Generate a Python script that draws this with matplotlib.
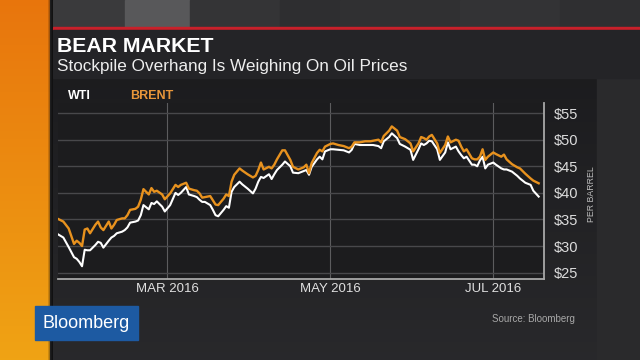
import matplotlib.pyplot as plt
import numpy as np
import pandas as pd
from matplotlib.patches import Rectangle

# WTI vs Brent crude, Feb - Aug 2016
dates = [
    "2016-02-03", "2016-02-05", "2016-02-07", "2016-02-09", "2016-02-10", "2016-02-11",
    "2016-02-12", "2016-02-13", "2016-02-14", "2016-02-15", "2016-02-17", "2016-02-18",
    "2016-02-19", "2016-02-20", "2016-02-22", "2016-02-23", "2016-02-24", "2016-02-25",
    "2016-02-27", "2016-02-28", "2016-02-29", "2016-03-01", "2016-03-03", "2016-03-04",
    "2016-03-05", "2016-03-06", "2016-03-08", "2016-03-09", "2016-03-10", "2016-03-11",
    "2016-03-13", "2016-03-14", "2016-03-16", "2016-03-18", "2016-03-19", "2016-03-20",
    "2016-03-22", "2016-03-23", "2016-03-25", "2016-03-26", "2016-03-27", "2016-03-28",
    "2016-03-29", "2016-03-31", "2016-04-01", "2016-04-02", "2016-04-03", "2016-04-05",
    "2016-04-06", "2016-04-07", "2016-04-08", "2016-04-09", "2016-04-11", "2016-04-12",
    "2016-04-14", "2016-04-16", "2016-04-17", "2016-04-18", "2016-04-19", "2016-04-20",
    "2016-04-22", "2016-04-23", "2016-04-24", "2016-04-25", "2016-04-27", "2016-04-28",
    "2016-04-30", "2016-05-01", "2016-05-03", "2016-05-05", "2016-05-06", "2016-05-07",
    "2016-05-08", "2016-05-10", "2016-05-11", "2016-05-12", "2016-05-13", "2016-05-15",
    "2016-05-16", "2016-05-18", "2016-05-20", "2016-05-22", "2016-05-23", "2016-05-24",
    "2016-05-26", "2016-05-28", "2016-05-30", "2016-05-31", "2016-06-02", "2016-06-03",
    "2016-06-04", "2016-06-06", "2016-06-07", "2016-06-09", "2016-06-10", "2016-06-12",
    "2016-06-14", "2016-06-15", "2016-06-17", "2016-06-18", "2016-06-19", "2016-06-20",
    "2016-06-21", "2016-06-22", "2016-06-24", "2016-06-25", "2016-06-27", "2016-06-28",
    "2016-06-29", "2016-07-01", "2016-07-02", "2016-07-03", "2016-07-04", "2016-07-05",
    "2016-07-07", "2016-07-08", "2016-07-09", "2016-07-10", "2016-07-11", "2016-07-12",
    "2016-07-13", "2016-07-15", "2016-07-16", "2016-07-18", "2016-07-19", "2016-07-20",
    "2016-07-22", "2016-07-24", "2016-07-25", "2016-07-27", "2016-07-29", "2016-07-30",
    "2016-08-01",
]

brent = [
    35.1, 34.6, 33.3, 30.4, 31.0, 30.6, 30.0, 33.1, 33.3, 32.4, 34.0, 34.6,
    33.5, 33.0, 34.6, 33.3, 34.0, 34.9, 35.2, 35.2, 35.8, 36.8, 37.0, 37.4,
    38.7, 40.7, 39.7, 40.9, 40.2, 40.4, 39.7, 38.8, 39.9, 41.5, 41.1, 41.5,
    41.9, 40.8, 40.5, 40.4, 39.9, 39.1, 39.2, 39.4, 38.6, 37.8, 37.7, 38.9,
    39.7, 39.4, 42.1, 43.4, 44.6, 44.2, 43.5, 42.9, 43.2, 44.3, 45.7, 44.4,
    44.9, 44.6, 45.3, 46.3, 48.0, 48.0, 46.2, 44.9, 44.4, 44.8, 45.3, 43.7,
    45.6, 47.5, 48.1, 47.8, 48.7, 49.2, 49.3, 49.0, 48.8, 48.4, 48.7, 49.5,
    49.5, 49.7, 49.7, 49.8, 50.0, 49.5, 50.7, 51.7, 52.5, 51.7, 50.5, 50.1,
    49.3, 47.8, 49.3, 50.5, 50.3, 50.0, 50.6, 50.9, 49.3, 47.5, 49.0, 50.6,
    49.5, 50.0, 49.8, 48.7, 47.8, 48.2, 46.5, 46.3, 46.3, 46.8, 48.2, 46.2,
    46.8, 47.6, 47.3, 46.8, 47.2, 46.3, 45.4, 44.8, 44.6, 43.6, 42.7, 42.3,
    41.8,
]

wti = [
    32.2, 31.6, 29.8, 27.9, 27.6, 27.0, 26.2, 29.3, 29.2, 29.2, 30.2, 30.8,
    30.6, 29.7, 31.0, 31.6, 31.9, 32.4, 32.7, 33.0, 33.5, 34.4, 34.6, 34.8,
    35.8, 37.7, 36.9, 38.1, 37.9, 38.4, 37.4, 36.5, 37.7, 40.0, 39.6, 40.0,
    41.1, 39.7, 39.4, 39.2, 38.7, 38.3, 38.3, 37.7, 36.8, 35.8, 35.6, 36.8,
    37.5, 37.2, 40.2, 41.1, 42.1, 41.6, 40.8, 39.9, 40.8, 42.1, 43.0, 42.8,
    43.5, 42.6, 43.5, 44.3, 45.3, 45.9, 45.0, 43.8, 43.7, 44.1, 44.3, 43.4,
    44.9, 46.3, 46.8, 46.3, 47.8, 48.2, 48.2, 48.1, 48.0, 47.6, 48.1, 49.2,
    49.0, 49.0, 49.0, 49.0, 48.8, 48.4, 49.7, 50.5, 51.2, 50.3, 49.2, 48.7,
    48.1, 46.2, 48.2, 49.3, 49.0, 49.3, 49.8, 49.7, 48.2, 46.2, 47.6, 49.5,
    48.2, 48.7, 47.8, 47.1, 46.5, 46.8, 45.3, 45.3, 45.0, 46.1, 46.8, 44.6,
    45.3, 45.7, 45.3, 44.6, 44.4, 44.4, 44.0, 43.2, 42.7, 41.9, 41.5, 40.4,
    39.3,
]

price_ticks = [25, 30, 35, 40, 45, 50, 55]
month_ticks = ["2016-03-15", "2016-05-15", "2016-07-15"]
month_labels = ["MAR 2016", "MAY 2016", "JUL 2016"]

plt.rcParams["font.family"] = ["Liberation Sans", "DejaVu Sans"]

fig = plt.figure(figsize=(6.4, 3.6), dpi=100)

# background "TV" frame, drawn in pixel units
bg = fig.add_axes([0, 0, 1, 1])
bg.set_xlim(0, 640)
bg.set_ylim(360, 0)
bg.axis("off")
bg.add_patch(Rectangle((0, 0), 640, 360, color="#2b2b2d"))

# video-wall blocks along the top
for x0, w, c in [(53, 72, "#3a3a3c"), (125, 65, "#58585a"), (190, 90, "#343436"),
                 (280, 60, "#2e2e30"), (340, 120, "#303032"), (460, 100, "#333335"),
                 (560, 80, "#2f2f31")]:
    bg.add_patch(Rectangle((x0, 0), w, 27, color=c))

# dark lower gradient
shade = np.linspace(0, 1, 200)[:, None]
lower = np.dstack([0.11 + 0.05 * shade, 0.11 + 0.05 * shade, 0.12 + 0.05 * shade])
bg.imshow(lower, extent=(53, 640, 360, 78), aspect="auto", zorder=1)
bg.add_patch(Rectangle((597, 78), 43, 282, color="#2a2a2c", zorder=1.5))

# title band with red rule
bg.add_patch(Rectangle((53, 27), 587, 2.5, color="#c8202a", zorder=2))
bg.add_patch(Rectangle((53, 29.5), 587, 48.5, color="#242427", zorder=2))

# orange side strip
g = np.linspace(0, 1, 256)[:, None]
strip = np.dstack([0.91 + 0.03 * g, 0.46 + 0.18 * g, 0.05 + 0.03 * g])
bg.imshow(strip, extent=(0, 50, 360, 0), aspect="auto", zorder=2)
for i, a in enumerate([0.15, 0.3, 0.45, 0.6]):
    bg.add_patch(Rectangle((48 + i * 1.3, 0), 1.3, 360, color="black", alpha=a, lw=0, zorder=2.5))

bg.text(57, 52, "BEAR MARKET", fontsize=15.3, fontweight="bold", color="white", zorder=3)
bg.text(57, 71, "Stockpile Overhang Is Weighing On Oil Prices", fontsize=12.3,
        color="#eeeeee", zorder=3)
bg.text(68, 99, "WTI", fontsize=9, fontweight="bold", color="white", zorder=3)
bg.text(130, 99, "BRENT", fontsize=9, fontweight="bold", color="#e8963a", zorder=3)
bg.text(591, 194, "PER BARREL", fontsize=6.3, color="#bdbdbd", rotation=90,
        ha="center", va="center", zorder=3)

# Bloomberg tag and source
bg.add_patch(Rectangle((35, 306), 103, 34, color="#1d5aa2", zorder=3))
bg.text(86, 323.5, "Bloomberg", fontsize=13, color="white",
        ha="center", va="center", zorder=4)
bg.text(575, 322.5, "Source: Bloomberg", fontsize=7, color="#a8a8a8", ha="right", zorder=3)

# the chart itself
ax = fig.add_axes([58 / 640, 1 - 279 / 360, 486 / 640, 176 / 360])
ax.set_facecolor("#1c1c1e")
x = pd.to_datetime(dates)
ax.plot(x, wti, color="white", lw=1.5, zorder=3)
ax.plot(x, brent, color="#e8921e", lw=1.7, zorder=4)

ax.set_xlim(pd.Timestamp("2016-02-03"), pd.Timestamp("2016-08-03"))
ax.set_ylim(23.8, 56.9)
ax.set_yticks(price_ticks)
ax.set_yticklabels([f"${v}" for v in price_ticks])
ax.set_xticks(pd.to_datetime(month_ticks))
ax.set_xticklabels(month_labels)
ax.yaxis.tick_right()
ax.tick_params(axis="y", length=0, pad=7, labelsize=10.5, labelcolor="#dcdcdc")
ax.tick_params(axis="x", length=0, pad=3, labelsize=9.5, labelcolor="#e0e0e0")
ax.grid(axis="y", color="#48484b", lw=1.0)
ax.grid(axis="x", color="#5c5c5e", lw=0.8)
ax.set_axisbelow(True)
for side in ["left", "top"]:
    ax.spines[side].set_visible(False)
for side in ["right", "bottom"]:
    ax.spines[side].set_color("#a8a8a8")
    ax.spines[side].set_linewidth(1.3)

fig.savefig("out.png", dpi=100)
